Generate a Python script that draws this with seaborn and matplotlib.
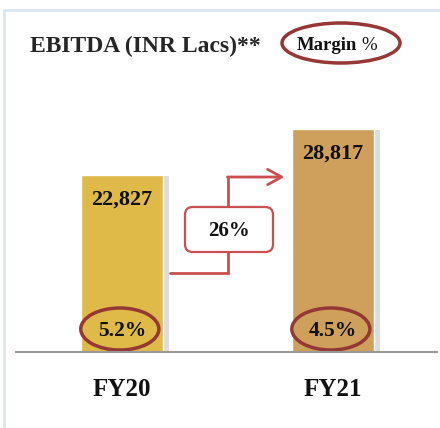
import seaborn as sns
import matplotlib.pyplot as plt
import matplotlib.patheffects as pe
from matplotlib.patches import Ellipse, FancyBboxPatch
from matplotlib.lines import Line2D
import pandas as pd

# Data
categories = ["FY20", "FY21"]
ebitda = [22827, 28817]
margins = ["5.2%", "4.5%"]
growth = "26%"
bar_colors = ["#E0BA48", "#CFA05B"]

df = pd.DataFrame({"Year": categories, "EBITDA": ebitda})

sns.set_style("white")
plt.rcParams["font.family"] = ["Liberation Serif", "DejaVu Serif"]

W, H = 440, 428
fig = plt.figure(figsize=(W / 100, H / 100), dpi=100)
ax = fig.add_axes([16 / W, 76 / H, 421 / W, 272 / H])

sns.barplot(data=df, x="Year", y="EBITDA", hue="Year", palette=bar_colors,
            width=0.39, saturation=1, legend=False, ax=ax)
for bar in ax.patches:
    bar.set_path_effects([pe.SimplePatchShadow(offset=(4, -1), shadow_rgbFace="#8c8c8c", alpha=0.3),
                          pe.Normal()])

ax.set_xlim(-0.502, 1.493)
ax.set_ylim(0, 35080)
ax.set_xlabel("")
ax.set_ylabel("")
ax.set_yticks([])
for s in ["top", "left", "right"]:
    ax.spines[s].set_visible(False)
ax.spines["bottom"].set_color("#9a9a9a")
ax.spines["bottom"].set_linewidth(1.5)
ax.tick_params(axis="x", length=0, pad=19)
for lbl in ax.get_xticklabels():
    lbl.set_fontsize(18)
    lbl.set_fontweight("bold")
    lbl.set_color("#111111")

red = "#953735"
for i, (v, m) in enumerate(zip(ebitda, margins)):
    ax.annotate(f"{v:,}", xy=(i, v), xytext=(0, -18), textcoords="offset points",
                ha="center", va="center", fontsize=16, fontweight="bold", color="#111111")
    ax.annotate(m, xy=(i, 0), xytext=(0, 15), textcoords="offset points",
                ha="center", va="center", fontsize=15.5, fontweight="bold", color="#111111")
    ax.add_patch(Ellipse((i - 0.01, 2966), 0.37, 5417, fill=False, edgecolor=red, lw=2.5))

# growth arrow
arrow_c = "#C9504F"
ax.plot([0.2275, 0.502, 0.502], [10188, 10188, 22569], color=arrow_c, lw=2, solid_joinstyle="miter")
ax.annotate("", xy=(0.77, 22569), xytext=(0.50, 22569),
            arrowprops=dict(arrowstyle="->,head_length=1.0,head_width=0.55", color=arrow_c, lw=2,
                            shrinkA=0, shrinkB=0))
fig.patches.append(FancyBboxPatch((185 / W, 1 - 252 / H), 88 / W, 45 / H,
                                  boxstyle="round,pad=0,rounding_size=0.018",
                                  transform=fig.transFigure, facecolor="white",
                                  edgecolor=arrow_c, lw=1.6, zorder=5))
fig.text(229 / W, 1 - 231 / H, growth, ha="center", va="center", fontsize=15,
         fontweight="bold", color="#111111", zorder=6)

# title and margin legend
fig.text(30 / W, 1 - 46 / H, "EBITDA (INR Lacs)**", ha="left", va="center", fontsize=17,
         fontweight="bold", color="#262626")
fig.patches.append(Ellipse((341 / W, 1 - 43 / H), 118 / W, 40 / H, fill=False, edgecolor=red,
                           lw=2.5, transform=fig.transFigure))
fig.text(357 / W, 1 - 46 / H, "Margin", ha="right", va="center", fontsize=13.5,
         fontweight="bold", color="#111111")
fig.text(361 / W, 1 - 46 / H, "%", ha="left", va="center", fontsize=13.5, color="#111111")

# outer frame
frame_c = "#DCE6F2"
fig.lines.append(Line2D([4 / W, 4 / W], [0, 1 - 10 / H], transform=fig.transFigure, color=frame_c, lw=2))
fig.lines.append(Line2D([4 / W, 1], [1 - 10 / H, 1 - 10 / H], transform=fig.transFigure, color=frame_c, lw=2))

fig.savefig("out.png", dpi=100)
